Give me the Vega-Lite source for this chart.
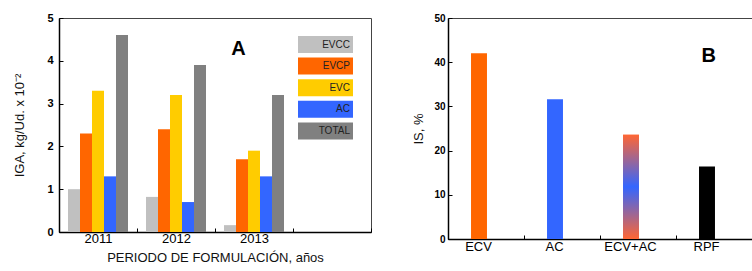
{
  "$schema": "https://vega.github.io/schema/vega-lite/v6.json",
  "padding": {"left": 13, "top": 11, "right": 0, "bottom": 0},
  "background": "white",
  "spacing": 40,
  "resolve": {"scale": {"color": "independent"}, "legend": {"color": "independent"}},
  "config": {
    "font": "Liberation Sans",
    "view": {"stroke": "#444", "strokeWidth": 1},
    "axis": {
      "domainColor": "#000",
      "domainWidth": 1.5,
      "tickColor": "#000",
      "tickWidth": 1,
      "tickSize": -4,
      "grid": false,
      "labelColor": "#000",
      "titleColor": "#111",
      "titleFontWeight": "normal",
      "titleFontSize": 13,
      "labelFontSize": 13
    }
  },
  "hconcat": [
    {
      "width": 312,
      "height": 214,
      "data": {
        "values": [
          {"year": "2011", "serie": "EVCC", "value": 1.0},
          {"year": "2011", "serie": "EVCP", "value": 2.3},
          {"year": "2011", "serie": "EVC", "value": 3.3},
          {"year": "2011", "serie": "AC", "value": 1.3},
          {"year": "2011", "serie": "TOTAL", "value": 4.6},
          {"year": "2012", "serie": "EVCC", "value": 0.82},
          {"year": "2012", "serie": "EVCP", "value": 2.4},
          {"year": "2012", "serie": "EVC", "value": 3.2},
          {"year": "2012", "serie": "AC", "value": 0.7},
          {"year": "2012", "serie": "TOTAL", "value": 3.9},
          {"year": "2013", "serie": "EVCC", "value": 0.16},
          {"year": "2013", "serie": "EVCP", "value": 1.7},
          {"year": "2013", "serie": "EVC", "value": 1.9},
          {"year": "2013", "serie": "AC", "value": 1.3},
          {"year": "2013", "serie": "TOTAL", "value": 3.2}
        ]
      },
      "layer": [
        {
          "mark": {"type": "bar"},
          "encoding": {
            "x": {
              "field": "year",
              "type": "nominal",
              "scale": {"domain": ["2011", "2012", "2013", " "], "paddingInner": 0, "paddingOuter": 0},
              "axis": {"title": "PERIODO DE FORMULACIÓN, años", "labelAngle": 0, "tickBand": "extent", "labelPadding": 4, "titlePadding": 6}
            },
            "xOffset": {
              "field": "serie",
              "type": "nominal",
              "scale": {"domain": ["EVCC", "EVCP", "EVC", "AC", "TOTAL"], "paddingInner": 0, "paddingOuter": 0.75}
            },
            "y": {
              "field": "value",
              "type": "quantitative",
              "scale": {"domain": [0, 5]},
              "axis": {"title": "IGA, kg/Ud. x 10⁻²", "values": [0, 1, 2, 3, 4, 5], "labelFontWeight": "bold", "labelFontSize": 11, "labelPadding": 10, "titlePadding": 20}
            },
            "color": {
              "field": "serie",
              "type": "nominal",
              "scale": {"domain": ["EVCC", "EVCP", "EVC", "AC", "TOTAL"], "range": ["#c0c0c0", "#ff6600", "#ffcc00", "#3366ff", "#808080"]},
              "legend": {
                "title": null,
                "orient": "top-right",
                "offset": 18,
                "padding": 0,
                "symbolType": "M-3.235,-1H3.235V1H-3.235Z",
                "symbolSize": 289,
                "symbolStrokeWidth": 0,
                "symbolOpacity": 1,
                "labelAlign": "right",
                "labelOffset": 16,
                "labelFontSize": 10,
                "labelColor": "#222",
                "rowPadding": 4.6
              }
            }
          }
        },
        {
          "data": {"values": [{"t": "A"}]},
          "mark": {"type": "text", "fontSize": 20, "fontWeight": "bold", "baseline": "middle", "align": "center", "color": "#000"},
          "encoding": {
            "x": {"datum": "2013", "bandPosition": 0.3},
            "y": {"datum": 4.28},
            "text": {"field": "t"}
          }
        }
      ]
    },
    {
      "width": 304,
      "height": 221,
      "data": {
        "values": [
          {"cat": "ECV", "value": 42.0},
          {"cat": "AC", "value": 31.6},
          {"cat": "ECV+AC", "value": 23.6},
          {"cat": "RPF", "value": 16.4}
        ]
      },
      "layer": [
        {
          "mark": {"type": "bar", "width": {"band": 0.21}, "xOffset": -7},
          "encoding": {
            "x": {
              "field": "cat",
              "type": "nominal",
              "scale": {"domain": ["ECV", "AC", "ECV+AC", "RPF"], "paddingInner": 0, "paddingOuter": 0},
              "axis": {"title": null, "labelAngle": 0, "tickBand": "extent", "labelOffset": -8, "labelPadding": 5}
            },
            "y": {
              "field": "value",
              "type": "quantitative",
              "scale": {"domain": [0, 50]},
              "axis": {
                "title": "IS, %",
                "values": [0, 5, 10, 15, 20, 25, 30, 35, 40, 45, 50],
                "labelExpr": "datum.value % 10 === 0 ? datum.label : ''",
                "labelFontWeight": "bold",
                "labelFontSize": 10,
                "labelPadding": 7,
                "titlePadding": 8
              }
            },
            "color": {
              "field": "cat",
              "type": "nominal",
              "scale": {"domain": ["ECV", "AC", "ECV+AC", "RPF"], "range": ["#ff6600", "#3366ff", "#ff6633", "#000000"]},
              "legend": null
            }
          }
        },
        {
          "transform": [{"filter": "datum.cat === 'ECV+AC'"}],
          "mark": {
            "type": "bar",
            "width": {"band": 0.21},
            "xOffset": -7,
            "fill": {
              "gradient": "linear",
              "x1": 0, "y1": 0, "x2": 0, "y2": 1,
              "stops": [
                {"offset": 0, "color": "#ff6633"},
                {"offset": 0.5, "color": "#3366ff"},
                {"offset": 1, "color": "#ff6633"}
              ]
            }
          },
          "encoding": {
            "x": {"field": "cat", "type": "nominal"},
            "y": {"field": "value", "type": "quantitative"}
          }
        },
        {
          "data": {"values": [{"t": "B"}]},
          "mark": {"type": "text", "fontSize": 20, "fontWeight": "bold", "baseline": "middle", "align": "center", "color": "#000"},
          "encoding": {
            "x": {"datum": "RPF", "bandPosition": 0.43},
            "y": {"datum": 41.3},
            "text": {"field": "t"}
          }
        }
      ]
    }
  ]
}
